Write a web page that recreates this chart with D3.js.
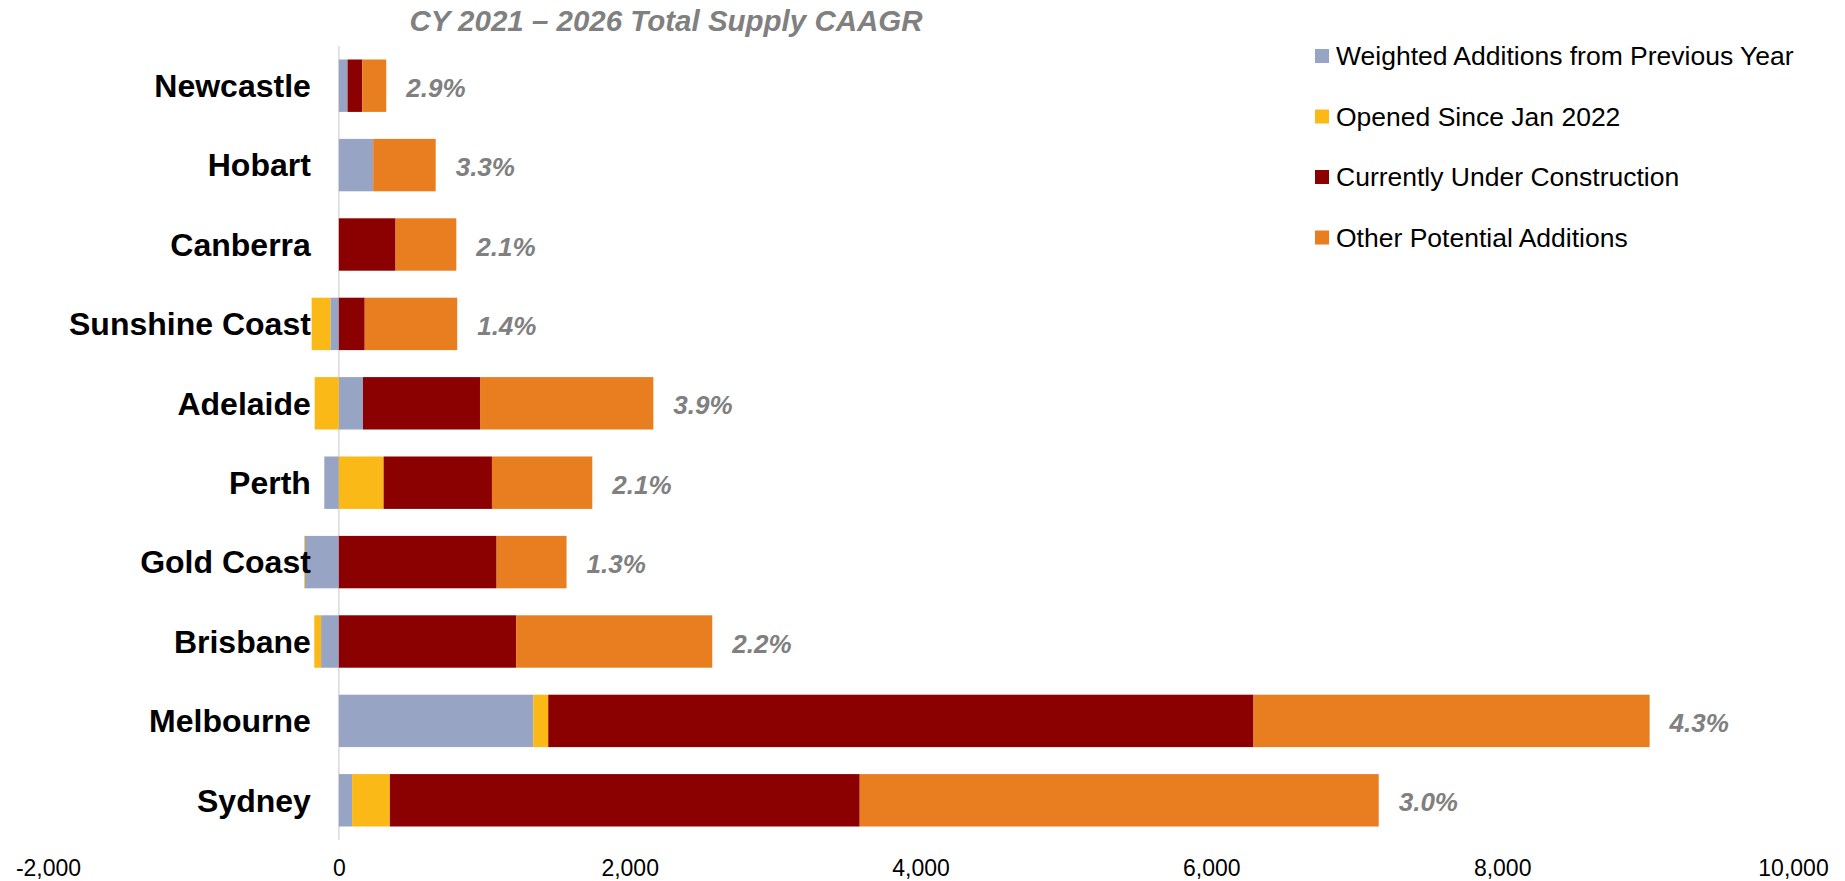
<!DOCTYPE html>
<html>
<head>
<meta charset="utf-8">
<script src="https://cdn.jsdelivr.net/npm/d3@7"></script>
<style>
  body { margin: 0; background: #fff; }
  svg { font-family: Arial, "Liberation Sans", sans-serif; }
</style>
</head>
<body>
<div id="chart"></div>
<script>
// Total supply additions by city, stacked horizontal bars

let cities = ["Newcastle", "Hobart", "Canberra", "Sunshine Coast", "Adelaide",
              "Perth", "Gold Coast", "Brisbane", "Melbourne", "Sydney"]
let seriesNames = ["Weighted Additions from Previous Year", "Opened Since Jan 2022",
                   "Currently Under Construction", "Other Potential Additions"]
let weighted     = [60, 236, 0, -58, 166, -100, -233, -122, 1337, 91]
let opened       = [0, 0, 0, -129, -166, 308, -5, -47, 103, 260]
let construction = [101, 0, 390, 178, 805, 745, 1085, 1219, 4850, 3231]
let other        = [165, 430, 418, 636, 1192, 690, 481, 1349, 2724, 3569]
let caagr        = ["2.9%", "3.3%", "2.1%", "1.4%", "3.9%", "2.1%", "1.3%", "2.2%", "4.3%", "3.0%"]
let xTicks       = [-2000, 0, 2000, 4000, 6000, 8000, 10000]

let colors = ["#97a4c4", "#fbb918", "#8b0000", "#e87e20"]

let width = 1845,
    height = 881

// rows for d3.stack
let rows = cities.map(function (c, i) {
  return { city: c, s0: weighted[i], s1: opened[i], s2: construction[i], s3: other[i], label: caagr[i] }
})
let keys = ["s0", "s1", "s2", "s3"]
let stacked = d3.stack().keys(keys).offset(d3.stackOffsetDiverging)(rows)

let svg = d3.select("#chart").append("svg")
    .attr("width", width)
    .attr("height", height)

let x = d3.scaleLinear().domain([-2000, 10000]).range([48, 1793])
let y = d3.scaleBand().domain(cities).range([46, 840]).paddingInner(0.34).paddingOuter(0.17)

// Title
svg.append("text")
    .attr("x", 666)
    .attr("y", 31)
    .attr("text-anchor", "middle")
    .attr("font-size", "29.5px")
    .attr("font-weight", "bold")
    .attr("font-style", "italic")
    .attr("fill", "#808080")
    .text("CY 2021 \u2013 2026 Total Supply CAAGR")

// Zero line (category axis)
svg.append("line")
    .attr("x1", x(0)).attr("x2", x(0))
    .attr("y1", 46).attr("y2", 840)
    .attr("stroke", "#d9d9d9")
    .attr("stroke-width", 1.5)

// Bars
let layers = svg.selectAll(".layer").data(stacked)
  .enter().append("g")
    .attr("class", "layer")
    .attr("fill", function (d, i) { return colors[i] })

layers.selectAll("rect").data(function (d) { return d })
  .enter().append("rect")
    .attr("x", function (d) { return x(Math.min(d[0], d[1])) })
    .attr("width", function (d) { return Math.abs(x(d[1]) - x(d[0])) })
    .attr("y", function (d) { return y(d.data.city) })
    .attr("height", y.bandwidth())

// Category labels
svg.selectAll(".city_label").data(cities)
  .enter().append("text")
    .attr("class", "city_label")
    .attr("x", x(0) - 28)
    .attr("y", function (d) { return y(d) + y.bandwidth() / 2 })
    .attr("dy", "0.35em")
    .attr("text-anchor", "end")
    .attr("font-size", "32px")
    .attr("font-weight", "bold")
    .attr("fill", "#000")
    .text(function (d) { return d })

// CAAGR labels right of each bar
svg.selectAll(".caagr_label").data(rows)
  .enter().append("text")
    .attr("class", "caagr_label")
    .attr("x", function (d) {
      let end = keys.reduce(function (s, k) { return s + Math.max(0, d[k]) }, 0)
      return x(end) + 20
    })
    .attr("y", function (d) { return y(d.city) + y.bandwidth() / 2 + 2 })
    .attr("dy", "0.35em")
    .attr("font-size", "26px")
    .attr("font-weight", "bold")
    .attr("font-style", "italic")
    .attr("fill", "#808080")
    .text(function (d) { return d.label })

// X axis (labels only)
let fmt = d3.format(",")
let xAxis = d3.axisBottom(x)
    .tickValues(xTicks)
    .tickFormat(function (d) { return fmt(d).replace("\u2212", "-") })
    .tickSize(0)
    .tickPadding(0)
let gx = svg.append("g")
    .attr("transform", "translate(0,860)")
    .call(xAxis)
gx.select(".domain").remove()
gx.selectAll("text")
    .attr("font-size", "23px")
    .attr("fill", "#000")
    .attr("dy", "0.71em")
    .attr("font-family", "Arial, 'Liberation Sans', sans-serif")

// Legend
let legend = svg.selectAll(".legend").data(seriesNames)
  .enter().append("g")
    .attr("class", "legend")
    .attr("transform", function (d, i) { return "translate(1315," + (56 + i * 60.5) + ")" })

legend.append("rect")
    .attr("x", 0)
    .attr("y", -7)
    .attr("width", 14)
    .attr("height", 14)
    .attr("fill", function (d, i) { return colors[i] })

legend.append("text")
    .attr("x", 21)
    .attr("y", 0)
    .attr("dy", "0.35em")
    .attr("font-size", "26.5px")
    .attr("fill", "#000")
    .text(function (d) { return d })
</script>
</body>
</html>
